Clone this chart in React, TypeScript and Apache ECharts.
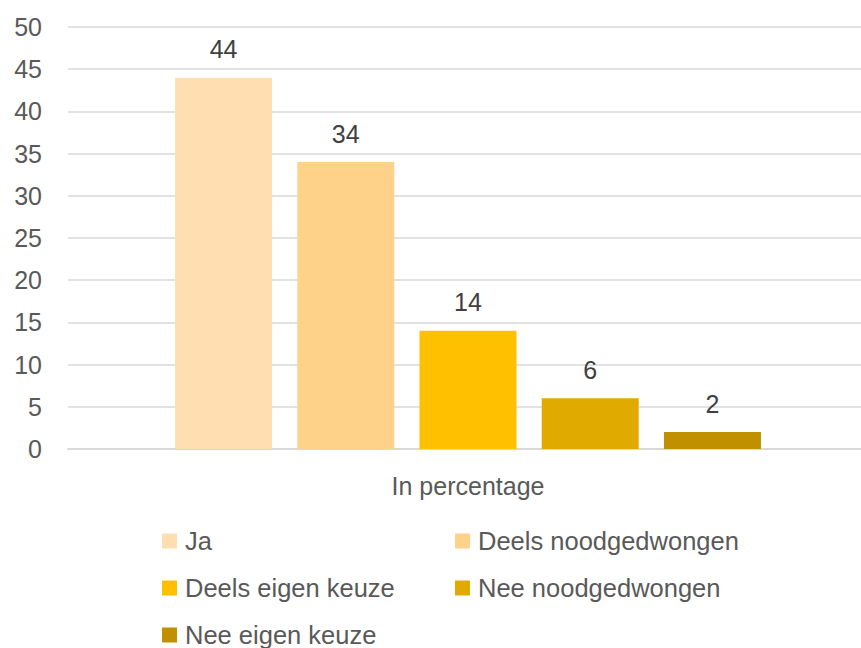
import React, { useEffect, useRef } from "react";
import * as echarts from "echarts";

const categories = ["In percentage"];
const seriesNames = ["Ja", "Deels noodgedwongen", "Deels eigen keuze", "Nee noodgedwongen", "Nee eigen keuze"];
const seriesValues = [44, 34, 14, 6, 2];
const seriesColors = ["#FFDFB2", "#FFD28A", "#FFC000", "#E1AA00", "#C09000"];
const legendLeftCol = ["Ja", "Deels eigen keuze", "Nee eigen keuze"];
const legendRightCol = ["Deels noodgedwongen", "Nee noodgedwongen"];

const FONT = "'Liberation Sans', Arial, sans-serif";

export default function App() {
  const ref = useRef<HTMLDivElement>(null);
  useEffect(() => {
    if (!ref.current) return;
    const chart = echarts.init(ref.current, null, { renderer: "svg" });
    const legendBase = {
      orient: "vertical" as const,
      top: 528,
      padding: 0,
      itemWidth: 15,
      itemHeight: 15,
      itemGap: 21,
      icon: "rect",
      textStyle: { fontFamily: FONT, fontSize: 25.5, lineHeight: 25, color: "#595959", padding: [0, 0, 0, 3] },
      selectedMode: false,
    };
    chart.setOption({
      animation: false,
      backgroundColor: "#ffffff",
      textStyle: { fontFamily: FONT },
      grid: { left: 68, right: 0, top: 27, bottom: 251, containLabel: false },
      legend: [
        { ...legendBase, left: 162, data: legendLeftCol },
        { ...legendBase, left: 455, data: legendRightCol },
      ],
      xAxis: {
        type: "category",
        data: categories,
        axisLine: { show: true, lineStyle: { color: "#d9d9d9", width: 2 } },
        axisTick: { show: false },
        axisLabel: { fontFamily: FONT, fontSize: 25, color: "#595959", margin: 24 },
      },
      yAxis: {
        type: "value",
        min: 0,
        max: 50,
        interval: 5,
        axisLine: { show: false },
        axisTick: { show: false },
        splitLine: { lineStyle: { color: "#d9d9d9", width: 1.5 } },
        axisLabel: { fontFamily: FONT, fontSize: 25, color: "#595959", margin: 26 },
      },
      series: seriesNames.map((name, i) => ({
        name,
        type: "bar",
        data: [seriesValues[i]],
        barWidth: 97,
        barGap: "26%",
        itemStyle: { color: seriesColors[i] },
        label: {
          show: true,
          position: "top",
          distance: 16,
          fontFamily: FONT,
          fontSize: 25,
          color: "#404040",
        },
      })),
    });
    return () => chart.dispose();
  }, []);
  return (
    <div
      ref={ref}
      style={{ position: "fixed", left: 0, top: 0, width: 868, height: 700 }}
    />
  );
}
